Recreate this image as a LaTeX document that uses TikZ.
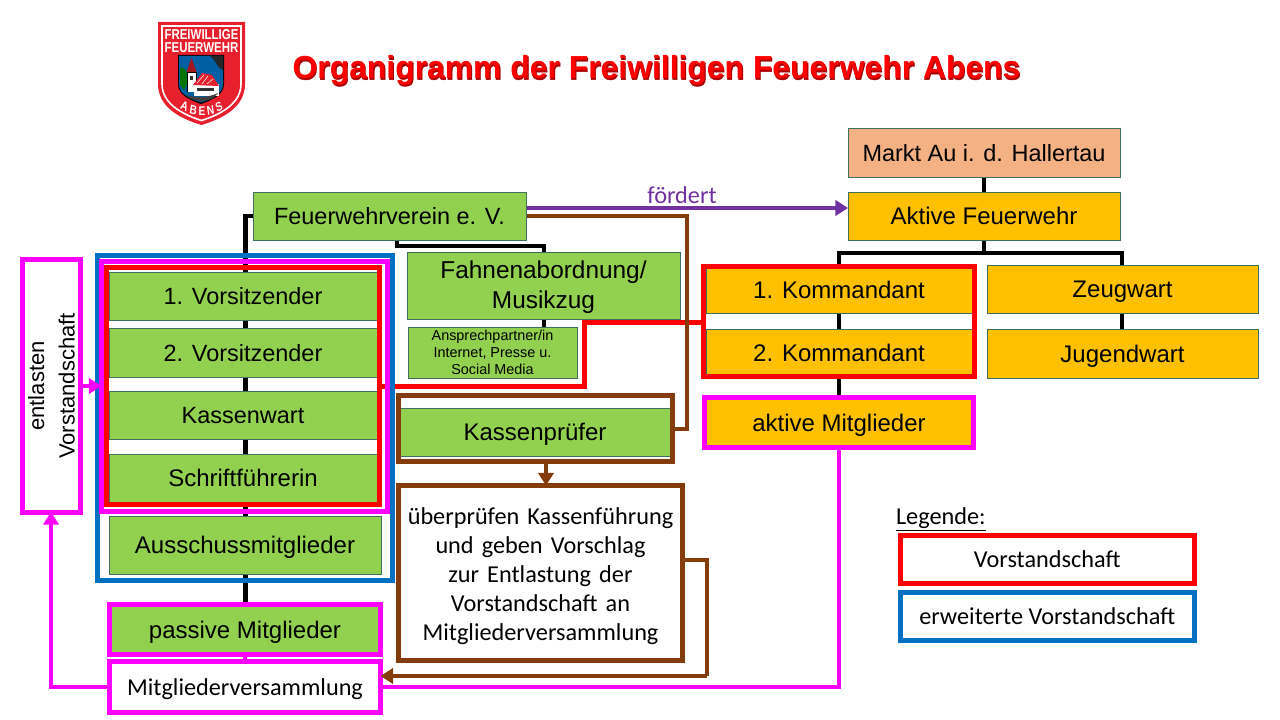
\documentclass[tikz,border=0pt]{standalone}
\usepackage{fontspec}
\setmainfont{Liberation Sans}
\newfontfamily\calfont{Carlito}
\newfontfamily\ttlfont[BoldFeatures={FakeBold=1.2}]{Liberation Sans}
\usetikzlibrary{arrows.meta,calc,backgrounds}
\definecolor{grn}{HTML}{92D050}
\definecolor{org}{HTML}{FFC000}
\definecolor{sal}{HTML}{F4B183}
\definecolor{edgg}{HTML}{3F6F5F}
\definecolor{mag}{HTML}{FF00FF}
\definecolor{rd}{HTML}{FF0000}
\definecolor{blu}{HTML}{0070C0}
\definecolor{brn}{HTML}{843C0C}
\definecolor{pur}{HTML}{7030A0}
\definecolor{logored}{HTML}{E8202E}
\tikzset{x=0.75pt,y=-0.75pt,
 every node/.style={inner sep=0pt,outer sep=0pt,align=center,font=\fontsize{18}{22.5}\selectfont},
 gbox/.style={fill=grn,draw=edgg,line width=0.7pt},
 obox/.style={fill=org,draw=edgg,line width=0.7pt},
 sbox/.style={fill=sal,draw=edgg,line width=0.7pt},
 rframe/.style={draw=rd,line width=3.75pt},
 bframe/.style={draw=blu,line width=3.75pt},
 mframe/.style={draw=mag,line width=3.75pt},
 nframe/.style={draw=brn,line width=3.75pt},
 blk/.style={draw=black,line width=3.2pt},
 redl/.style={draw=rd,line width=3.75pt},
 brnl/.style={draw=brn,line width=3pt},
 magl/.style={draw=mag,line width=3pt},
 purl/.style={draw=pur,line width=3pt},
 tip/.style={-{Triangle[length=9.5pt,width=11.5pt]}},
 caltext/.style={font=\calfont\fontsize{18.2}{21.75}\selectfont},
 oneline/.style={text height=14.6pt,text depth=1.8pt},
 smaller/.style={font=\fontsize{17.6}{22}\selectfont},
 logotxt/.style={font=\bfseries\fontsize{8.6}{9}\selectfont,text=white,yscale=1.25},
 logoabc/.style={font=\bfseries\fontsize{7.6}{8}\selectfont,text=white,yscale=1.25},
 ttl/.style={font=\ttlfont\bfseries\fontsize{23.9}{28}\selectfont,anchor=center},
}
\newcommand\bx[7][]{\node[#2,anchor=center,minimum width={(#5-#3)*0.75pt},minimum height={(#6-#4)*0.75pt},#1] (#7) at ({(#3+#5)/2},{(#4+#6)/2}) {};}
\newcommand\tx[8][]{\node[#2,oneline,anchor=center,minimum width={(#5-#3)*0.75pt},minimum height={(#6-#4)*0.75pt},#1] (#7) at ({(#3+#5)/2},{(#4+#6)/2}) {#8};}
\begin{document}
\begin{tikzpicture}
\useasboundingbox (0,0) rectangle (1280,720);
% ---- logo
\fill[logored] (158,22) -- (245,22) -- (245,84) .. controls (245,106) and (225,118) .. (201.5,125) .. controls (178,118) and (158,106) .. (158,84) -- cycle;
\draw[white,line width=1.2pt] (162,26) -- (241,26) -- (241,84) .. controls (241,103) and (222,114) .. (201.5,120.5) .. controls (181,114) and (162,103) .. (162,84) -- cycle;
\node[logotxt] (lg1) at (201.5,35) {FREIWILLIGE};
\node[logotxt] (lg2) at (201.5,47.5) {FEUERWEHR};
\fill[black] (178,55) -- (224,55) -- (224,84) .. controls (224,95) and (212,100) .. (201,104) .. controls (190,100) and (178,95) .. (178,84) -- cycle;
\fill[blu!85!black] (179,56) -- (223,56) -- (223,84) .. controls (223,94) and (212,99) .. (201,102.5) .. controls (190,99) and (179,94) .. (179,84) -- cycle;
\fill[black!85] (210,56) -- (223,56) -- (223,70) .. controls (217,68) and (216,60) .. cycle;
\fill[green!45!black] (180,68) .. controls (186,66) and (188,72) .. (187,84) -- (184,90) -- (180,85) -- cycle;
\fill[black] (186.5,72) rectangle (196.5,92);
\fill[white] (187.5,73) rectangle (195.5,92);
\fill[logored!70!black] (186.5,72) -- (191.5,58) -- (196.5,72) -- cycle;
\fill[black!80] (189.5,76) rectangle (193,80);
\fill[white] (194,84) rectangle (219,96);
\fill[logored] (193,85) -- (202,73) -- (212,75) -- (219,86) -- cycle;
\draw[white,line width=0.4pt] (197,83) -- (204,75) (202,84) -- (208,76) (207,84) -- (213,79);
\fill[black!80] (197,88) rectangle (214,91);
\fill[black!75] (186,95) .. controls (195,98) and (208,98) .. (218,93) -- (212,99) -- (201,101.5) -- (191,99) -- cycle;
\node[logoabc,rotate=-22] (la) at (184.5,106.5) {A};
\node[logoabc,rotate=-11] (lb) at (193.5,110) {B};
\node[logoabc] (le) at (202,111.5) {E};
\node[logoabc,rotate=11] (ln) at (210.5,110) {N};
\node[logoabc,rotate=22] (ls) at (219,106.5) {S};
% ---- title
\node[ttl,text=rd!65!black] (ts) at (657.2,71.5) {Organigramm der Freiwilligen Feuerwehr Abens};
\node[font=\bfseries\fontsize{23.9}{28}\selectfont,text=rd,anchor=center] (title) at (656.5,70.5) {Organigramm der Freiwilligen Feuerwehr Abens};
% ---- nodes
\tx[smaller]{sbox}{848}{128}{1120}{177}{markt}{Markt Au i. d. Hallertau}
\tx{obox}{848}{192}{1120}{240}{aktiv}{Aktive Feuerwehr}
\tx[smaller]{gbox}{253}{192}{526}{240}{verein}{Feuerwehrverein e. V.}
\node[gbox,minimum width=204.75pt,minimum height=50.25pt,font=\fontsize{18.3}{22.5}\selectfont] (fahne) at (543.5,285.5) {\rule{0pt}{16.5pt}Fahnenabordnung/\\Musikzug};
\node[gbox,minimum width=126.75pt,minimum height=38.25pt,font=\fontsize{10.8}{12.75}\selectfont] (ansp) at (492.5,352.5) {Ansprechpartner/in\\Internet, Presse u.\\Social Media};
\bx{bframe}{97}{255.5}{392}{580.5}{bfr}
\bx{mframe}{101.5}{261.5}{387.5}{511.5}{mfr}
\tx[smaller]{gbox}{109}{272}{377}{320}{v1}{1. Vorsitzender}
\tx[smaller]{gbox}{109}{328}{377}{377}{v2}{2. Vorsitzender}
\tx[smaller]{gbox}{109}{391}{377}{439}{kw}{Kassenwart}
\tx{gbox}{109}{454}{377}{502}{sf}{Schriftführerin}
\bx{rframe}{106.5}{267.5}{379.5}{504.5}{rfr}
\tx{gbox}{109}{516}{381}{574}{aus}{Ausschussmitglieder}
\tx{gbox,mframe}{109.5}{604.5}{380.5}{654.5}{pass}{passive Mitglieder}
\tx{mframe,fill=white,caltext}{109.5}{661.5}{380.5}{712.5}{mv}{Mitgliederversammlung}
\bx{mframe,fill=white}{22.5}{259.5}{80.5}{512}{ent}
\node[rotate=90,font=\fontsize{16.5}{20}\selectfont] (enttxt) at (51.5,386) {entlasten\\[3pt]Vorstandschaft};
\tx{gbox}{400}{408}{670}{456}{kp}{Kassenprüfer}
\bx{nframe}{398.5}{395.5}{672.5}{461.5}{kpf}
\node[nframe,fill=white,caltext,minimum width=213pt,minimum height=131.25pt,text width=210pt] (ueb) at (540.5,573) {\rule{0pt}{17pt}überprüfen Kassenführung\\und geben Vorschlag\\zur Entlastung der\\Vorstandschaft an\\Mitgliederversammlung};
\tx{obox}{706}{267}{972}{313}{k1}{1. Kommandant}
\tx{obox}{706}{329}{972}{376}{k2}{2. Kommandant}
\bx{rframe}{703.5}{266.5}{974.5}{376.5}{kfr}
\tx{obox,mframe}{704.5}{397.5}{973.5}{447.5}{am}{aktive Mitglieder}
\tx{obox}{987}{265}{1258}{313}{zw}{Zeugwart}
\tx{obox}{987}{329}{1258}{378}{jw}{Jugendwart}
\node[font=\calfont\fontsize{18.2}{20}\selectfont,anchor=base west] (leg) at (896,524.5) {\underline{Legende:}};
\tx{rframe,fill=white,caltext}{900.5}{535.5}{1194}{583}{lr}{Vorstandschaft}
\tx{bframe,fill=white,caltext}{900.5}{592.5}{1194}{640}{lb}{erweiterte Vorstandschaft}
\node[font=\calfont\fontsize{18.2}{20}\selectfont,text=pur] (ff) at (682,195) {fördert};
% ---- connectors
\coordinate (a0) at (839,253);
\coordinate (a1) at (1122,253);
\coordinate (vr) at (397,246);
\coordinate (fx) at (544,246);
\coordinate (vl) at (245.5,216);
\coordinate (rm) at (584,386);
\coordinate (rn) at (584,322);
\coordinate (bx1) at (687,216);
\coordinate (bx2) at (687,429);
\coordinate (bx3) at (707,560);
\coordinate (bx4) at (707,676);
\coordinate (my) at (0,687);
\coordinate (ay) at (0,386);
\coordinate (pu) at (0,208);
\coordinate (kx) at (546,0);
\coordinate (ex) at (51,0);
\coordinate (mx) at (984,0);
\begin{scope}[on background layer]
\draw[blk] (markt.south -| mx) -- (aktiv.north -| mx);
\draw[blk] (aktiv.south -| mx) -- (a0 -| mx);
\draw[blk] (k1.north -| a0) -- (a0) -- (a1) -- (zw.north -| a1);
\draw[blk] (k1.south -| a0) -- (k2.north -| a0);
\draw[blk] (kfr.south -| a0) -- (am.north -| a0);
\draw[blk] (zw.south -| a1) -- (jw.north -| a1);
\draw[blk] (verein.south -| vr) -- (vr) -- (fx) -- (fahne.north -| fx);
\draw[blk] (fahne.south -| fx) -- (ansp.north -| fx);
\draw[blk] (verein.west) -- (vl) -- (pass.north -| vl);
\draw[redl] (rfr.east |- rm) -- (rm) -- (rn) -- (kfr.west |- rn);
\draw[brnl] (verein.east |- bx1) -- (bx1) -- (bx2) -- (kpf.east |- bx2);
\draw[brnl] (ueb.east |- bx3) -- (bx3) -- (bx4);
\draw[magl] (am.south -| a0) |- (mv.east |- my);
\draw[magl] (pass.south) -- (mv.north);
\draw[purl,tip] (verein.east |- pu) -- (aktiv.west |- pu);
\end{scope}
\draw[brnl,tip] (kpf.south -| kx) -- (ueb.north -| kx);
\draw[brnl,tip] (bx4) -- (mv.east |- bx4);
\draw[magl,tip] (mv.west |- my) -| (ent.south -| ex);
\draw[magl,tip] (ent.east |- ay) -- (mfr.west |- ay);
\end{tikzpicture}
\end{document}
